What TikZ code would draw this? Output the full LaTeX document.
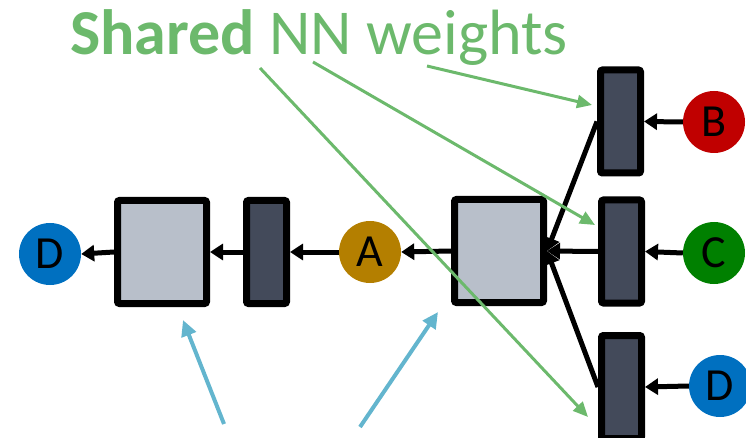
\documentclass[tikz,border=0pt]{standalone}
\usepackage{fontspec}
\setmainfont{Carlito}
\usetikzlibrary{arrows.meta}
\definecolor{boxlight}{HTML}{B8BFCA}
\definecolor{boxdark}{HTML}{434A5A}
\definecolor{cA}{HTML}{B47F00}
\definecolor{cB}{HTML}{C00000}
\definecolor{cC}{HTML}{008000}
\definecolor{cD}{HTML}{0070C0}
\definecolor{gline}{HTML}{6CB96C}
\definecolor{bline}{HTML}{63B5CE}
\tikzset{
  bigbox/.style={draw=black, line width=7pt, fill=boxlight, rounded corners=2pt, minimum width=89pt, minimum height=103pt, inner sep=0pt},
  thinbox/.style={draw=black, line width=7pt, fill=boxdark, rounded corners=2pt, minimum width=40pt, minimum height=103pt, inner sep=0pt},
  var/.style={circle, minimum size=62pt, inner sep=0pt, font=\fontsize{46}{46}\selectfont},
  blk/.style={line width=5pt, -{Triangle[width=16pt,length=13pt]}},
  garrow/.style={gline, line width=3pt, -{Triangle[width=13pt,length=15pt]}},
  barrow/.style={bline, line width=4pt, -{Triangle[width=15pt,length=16pt]}},
}
\begin{document}
\begin{tikzpicture}[x=1pt,y=-1pt]
\useasboundingbox (0,0) rectangle (746,438);
\node[anchor=base west, text=gline, inner sep=0pt, font=\fontsize{64}{64}\selectfont] (title) at (70,55) {\bfseries Shared\mdseries{} NN weights};

\node[var, fill=cD] (dout) at (50,254) {D};
\node[bigbox] (bb1) at (162,252) {};
\node[thinbox] (nb1) at (266.5,252) {};
\node[var, fill=cA] (a) at (370,252) {A};
\node[bigbox] (bb2) at (499,251) {};
\node[thinbox] (nbB) at (620.5,121.5) {};
\node[thinbox] (nbC) at (621.5,251.5) {};
\node[thinbox] (nbD) at (621.5,387) {};
\node[var, fill=cB] (b) at (714,122) {B};
\node[var, fill=cC] (c) at (714,253) {C};
\node[var, fill=cD] (d) at (720,386) {D};

\draw[blk] (b.west) -- (nbB.east);
\draw[blk] (c.west) -- (nbC.east);
\draw[blk] (d.west) -- (nbD.east);
\draw[blk] (nbB.west) -- (bb2.east);
\draw[blk] (nbC.west) -- (bb2.east);
\draw[blk] (nbD.west) -- (bb2.east);
\draw[blk] (bb2.west) -- (a.east);
\draw[blk] (a.west) -- (nb1.east);
\draw[blk] (nb1.west) -- (bb1.east);
\draw[blk] (bb1.west) -- (dout.east);

\coordinate (g1) at (427,66);
\coordinate (g2) at (313,62);
\coordinate (g3) at (260,68);
\coordinate (t1) at (592,105);
\coordinate (t2) at (595,225);
\coordinate (t3) at (588,417);
\draw[garrow] (g1) -- (t1);
\draw[garrow] (g2) -- (t2);
\draw[garrow] (g3) -- (t3);

\coordinate (s1) at (224,424);
\coordinate (s2) at (360,427);
\coordinate (e1) at (183,320);
\coordinate (e2) at (438,312);
\draw[barrow] (s1) -- (e1);
\draw[barrow] (s2) -- (e2);
\end{tikzpicture}
\end{document}
